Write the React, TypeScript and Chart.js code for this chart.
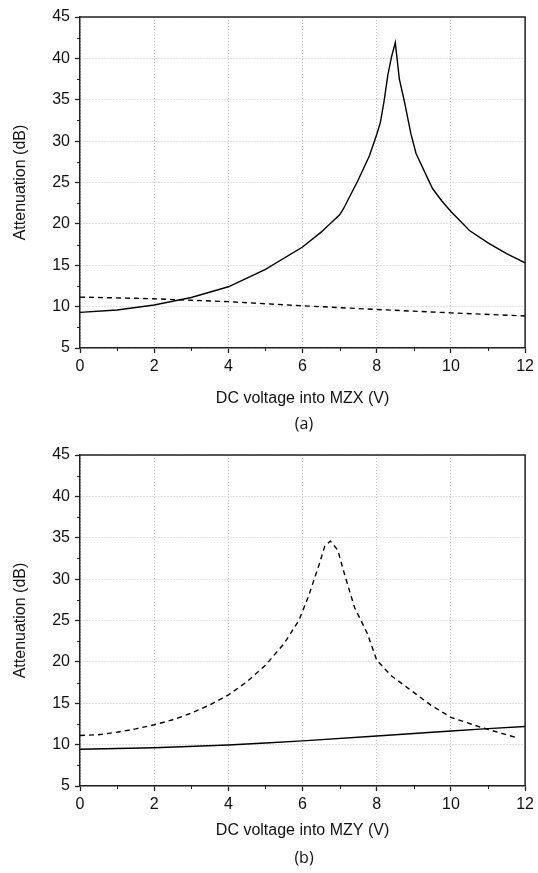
import React, { useEffect, useRef } from "react";
import { Chart, registerables } from "chart.js";

Chart.register(...registerables);

// ---- data ----
const xTickValues = [0, 2, 4, 6, 8, 10, 12];
const yTickValues = [5, 10, 15, 20, 25, 30, 35, 40, 45];
const xMinorTicks = [1, 3, 5, 7, 9, 11];
const yMinorTicks = [7.5, 12.5, 17.5, 22.5, 27.5, 32.5, 37.5, 42.5];

// (a) MZX
const aSolidX = [0, 1, 2, 3, 4, 5, 6, 6.5, 7.0, 7.1, 7.5, 7.8, 8.0, 8.1, 8.2, 8.3, 8.4, 8.5, 8.61, 8.75, 8.92, 9.06, 9.5, 9.75, 10, 10.5, 11, 11.5, 12];
const aSolidY = [9.3, 9.6, 10.2, 11.1, 12.4, 14.5, 17.2, 19.0, 21.1, 21.8, 25.3, 28.2, 30.8, 32.3, 34.9, 38.0, 40.2, 41.9, 37.5, 34.7, 30.9, 28.5, 24.3, 22.8, 21.5, 19.2, 17.7, 16.4, 15.3];
const aDashX = [0, 2, 4, 6, 8, 10, 12];
const aDashY = [11.15, 10.95, 10.6, 10.1, 9.65, 9.25, 8.87];

// (b) MZY
const bSolidX = [0, 2, 4, 5, 6, 8, 10, 11, 12];
const bSolidY = [9.45, 9.62, 9.95, 10.2, 10.45, 11.05, 11.65, 11.93, 12.2];
const bDashX = [0, 0.5, 1, 1.5, 2, 2.5, 3, 3.5, 4, 4.5, 5, 5.5, 5.9, 6.15, 6.45, 6.6, 6.75, 6.95, 7.15, 7.4, 7.75, 8.0, 8.4, 8.85, 9.45, 10, 10.8, 11.8];
const bDashY = [11.1, 11.2, 11.5, 11.9, 12.4, 13.0, 13.8, 14.8, 16.0, 17.6, 19.6, 22.2, 25.0, 27.8, 31.8, 34.0, 34.6, 33.5, 30.3, 26.6, 23.4, 20.2, 18.3, 16.8, 14.8, 13.3, 12.1, 10.8];

const xTitleA = "DC voltage into MZX (V)";
const xTitleB = "DC voltage into MZY (V)";
const yTitle = "Attenuation (dB)";

const FONT = "'Liberation Sans', Arial, Helvetica, sans-serif";
const AXIS_COLOR = "#222";

const zip = (xs: number[], ys: number[]) => xs.map((x, i) => ({ x, y: ys[i] }));

const framePlugin = {
  id: "frameAndMinor",
  afterDraw(chart: any) {
    const { ctx, chartArea, scales } = chart;
    ctx.save();
    ctx.strokeStyle = AXIS_COLOR;
    ctx.lineWidth = 1.5;
    ctx.beginPath();
    ctx.moveTo(chartArea.left, chartArea.top);
    ctx.lineTo(chartArea.right, chartArea.top);
    ctx.lineTo(chartArea.right, chartArea.bottom);
    ctx.stroke();
    ctx.lineWidth = 1;
    ctx.beginPath();
    xMinorTicks.forEach((v) => {
      const px = Math.round(scales.x.getPixelForValue(v)) + 0.5;
      ctx.moveTo(px, chartArea.bottom);
      ctx.lineTo(px, chartArea.bottom + 3);
    });
    yMinorTicks.forEach((v) => {
      const py = Math.round(scales.y.getPixelForValue(v)) + 0.5;
      ctx.moveTo(chartArea.left - 3, py);
      ctx.lineTo(chartArea.left, py);
    });
    ctx.stroke();
    ctx.restore();
  },
};

function makeConfig(solid: any[], dashed: any[], xTitle: string, padTop: number, xAxisHeight: number, xTitlePadBottom: number): any {
  return {
    type: "line",
    data: {
      datasets: [
        {
          data: solid,
          borderColor: "#000",
          borderWidth: 1.4,
          pointRadius: 0,
          tension: 0,
          fill: false,
        },
        {
          data: dashed,
          borderColor: "#000",
          borderWidth: 1.4,
          borderDash: [5, 4],
          pointRadius: 0,
          tension: 0,
          fill: false,
        },
      ],
    },
    options: {
      responsive: false,
      animation: false,
      layout: { padding: { top: padTop, right: 10, left: 0, bottom: 0 } },
      plugins: { legend: { display: false }, tooltip: { enabled: false }, title: { display: false } },
      scales: {
        x: {
          type: "linear",
          min: 0,
          max: 12,
          afterBuildTicks: (scale: any) => {
            scale.ticks = xTickValues.map((v) => ({ value: v }));
          },
          afterFit: (scale: any) => {
            scale.height = xAxisHeight;
          },
          ticks: {
            color: "#111",
            font: { family: FONT, size: 16 },
            padding: 4,
            maxRotation: 0,
            autoSkip: false,
          },
          grid: {
            color: "#c4c4c4",
            lineWidth: 1,
            tickLength: 5,
            tickColor: AXIS_COLOR,
            tickWidth: 1.3,
            tickBorderDash: [],
          },
          border: { display: true, color: AXIS_COLOR, width: 1.5, dash: [1, 2] },
          title: {
            display: true,
            text: xTitle,
            color: "#111",
            font: { family: FONT, size: 16 },
            padding: { top: 0, bottom: xTitlePadBottom },
          },
        },
        y: {
          type: "linear",
          min: 5,
          max: 45,
          afterBuildTicks: (scale: any) => {
            scale.ticks = yTickValues.map((v) => ({ value: v }));
          },
          afterFit: (scale: any) => {
            scale.width = 80;
          },
          ticks: {
            color: "#111",
            font: { family: FONT, size: 16 },
            padding: 5,
            autoSkip: false,
          },
          grid: {
            color: "#c4c4c4",
            lineWidth: 1,
            tickLength: 5,
            tickColor: AXIS_COLOR,
            tickWidth: 1.3,
            tickBorderDash: [],
          },
          border: { display: true, color: AXIS_COLOR, width: 1.5, dash: [1, 2] },
          title: {
            display: true,
            text: yTitle,
            color: "#111",
            font: { family: FONT, size: 16 },
            padding: { top: 11, bottom: 0 },
          },
        },
      },
    },
    plugins: [framePlugin],
  };
}

export default function App() {
  const refA = useRef<HTMLCanvasElement>(null);
  const refB = useRef<HTMLCanvasElement>(null);

  useEffect(() => {
    const chartA = new Chart(refA.current as HTMLCanvasElement, makeConfig(zip(aSolidX, aSolidY), zip(aDashX, aDashY), xTitleA, 17, 92, 32));
    const chartB = new Chart(refB.current as HTMLCanvasElement, makeConfig(zip(bSolidX, bSolidY), zip(bDashX, bDashY), xTitleB, 15, 87, 33));
    return () => {
      chartA.destroy();
      chartB.destroy();
    };
  }, []);

  const captionStyle: React.CSSProperties = {
    position: "absolute",
    left: 274,
    width: 60,
    textAlign: "center",
    fontFamily: "'Open Sans', 'Noto Sans', sans-serif",
    fontSize: 16,
    lineHeight: "20px",
    color: "#111",
  };

  return (
    <div style={{ position: "absolute", left: 0, top: 0, width: 538, height: 873, background: "#fff" }}>
      <canvas ref={refA} width={538} height={440} style={{ position: "absolute", left: 0, top: 0, width: 538, height: 440 }} />
      <canvas ref={refB} width={538} height={433} style={{ position: "absolute", left: 0, top: 440, width: 538, height: 433 }} />
      <div style={{ ...captionStyle, top: 413 }}>(a)</div>
      <div style={{ ...captionStyle, top: 847 }}>(b)</div>
    </div>
  );
}
